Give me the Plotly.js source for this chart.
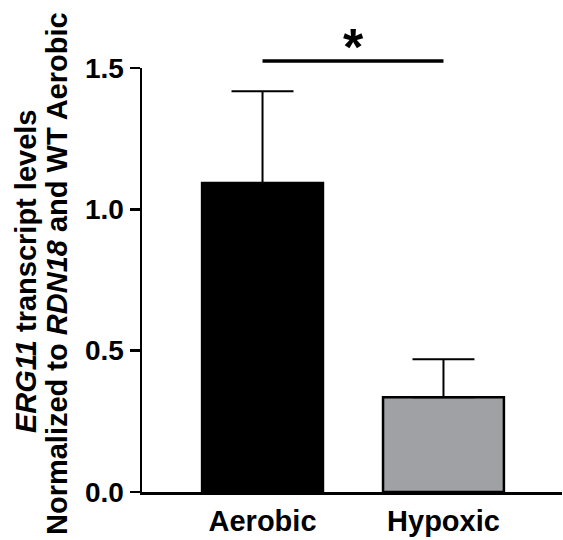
<!DOCTYPE html>
<html>
<head>
<meta charset="utf-8">
<script src="https://cdn.plot.ly/plotly-3.0.1.min.js"></script>
<style>html,body{margin:0;padding:0;background:#fff;}#chart{width:563px;height:540px;}</style>
</head>
<body>
<div id="chart"></div>
<script>
var categories = ["Aerobic", "Hypoxic"];
var means = [1.093, 0.335];
var errorsUp = [0.325, 0.135];
var barColors = ["#000000", "#a0a1a5"];
var yTickVals = [0, 0.5, 1.0, 1.5];
var yTickText = ["0.0", "0.5", "1.0", "1.5"];
var sigBar = { from: 0, to: 1, y: 1.525, label: "*" };
var yMax = 1.5;
var titleLine1 = "<i>ERG11</i> transcript levels";
var titleLine2 = "Normalized to <i>RDN18</i> and WT Aerobic";

var FONT = "Liberation Sans, Arial, Helvetica, sans-serif";

var trace = {
  type: "bar",
  x: [0, 1],
  y: means,
  width: 0.668,
  marker: { color: barColors, line: { color: "#000", width: 2.5 } },
  error_y: {
    type: "data",
    symmetric: false,
    array: errorsUp,
    arrayminus: [0, 0],
    color: "#000",
    thickness: 2,
    width: 31
  },
  hoverinfo: "none"
};

var layout = {
  width: 563,
  height: 540,
  margin: { l: 142, r: 1, t: 68, b: 48 },
  paper_bgcolor: "#fff",
  plot_bgcolor: "#fff",
  showlegend: false,
  xaxis: {
    range: [-0.666, 1.655],
    tickvals: [0, 1],
    ticktext: categories,
    showgrid: false,
    zeroline: false,
    showline: true,
    linecolor: "#000",
    linewidth: 2.5,
    ticks: "",
    ticklabelstandoff: 2,
    tickfont: { family: FONT, size: 29, color: "#000", weight: "bold" }
  },
  yaxis: {
    range: [0, yMax],
    tickvals: yTickVals,
    ticktext: yTickText,
    showgrid: false,
    zeroline: false,
    showline: true,
    linecolor: "#000",
    linewidth: 2.5,
    ticks: "outside",
    ticklen: 10,
    tickwidth: 2.5,
    tickcolor: "#000",
    tickfont: { family: FONT, size: 28, color: "#000", weight: "bold" }
  },
  shapes: [
    {
      type: "line",
      xref: "x",
      yref: "paper",
      x0: sigBar.from,
      x1: sigBar.to,
      y0: sigBar.y / yMax,
      y1: sigBar.y / yMax,
      line: { color: "#000", width: 3.5 }
    }
  ],
  annotations: [
    {
      xref: "x", yref: "paper",
      x: (sigBar.from + sigBar.to) / 2,
      y: sigBar.y / yMax,
      yanchor: "bottom", xanchor: "center",
      yshift: -17,
      text: sigBar.label,
      showarrow: false,
      font: { family: FONT, size: 52, color: "#000", weight: "bold" }
    },
    {
      xref: "paper", yref: "paper",
      x: (26 - 142) / 420, y: (492 - 272) / 424,
      xanchor: "center", yanchor: "middle",
      textangle: -90,
      text: titleLine1,
      showarrow: false,
      font: { family: FONT, size: 29, color: "#000", weight: "bold" }
    },
    {
      xref: "paper", yref: "paper",
      x: (57 - 142) / 420, y: (492 - 274) / 424,
      xanchor: "center", yanchor: "middle",
      textangle: -90,
      text: titleLine2,
      showarrow: false,
      font: { family: FONT, size: 29, color: "#000", weight: "bold" }
    }
  ]
};

Plotly.newPlot("chart", [trace], layout, { displayModeBar: false, staticPlot: true });
</script>
</body>
</html>
